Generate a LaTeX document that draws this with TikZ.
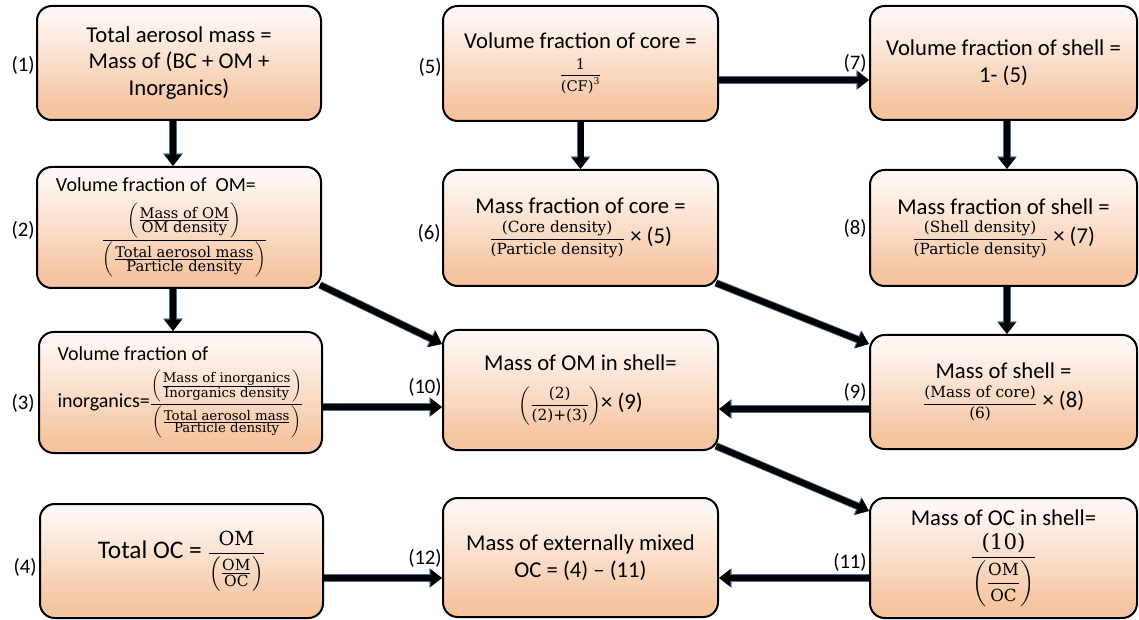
\documentclass[tikz,border=0pt]{standalone}
\usepackage{amsmath}
\usepackage{fontspec}
\setmainfont{Carlito}
\newfontfamily\cmf{DejaVu Serif}
\usetikzlibrary{arrows.meta,calc}
\definecolor{peachL}{RGB}{254,246,242}
\definecolor{peachD}{RGB}{245,196,160}
\definecolor{arrblue}{RGB}{65,113,156}
\pgfdeclareverticalshading{boxshade}{100bp}{color(0bp)=(peachD); color(25bp)=(peachD); color(30bp)=(peachD); color(70bp)=(peachL); color(100bp)=(peachL)}
\newcommand\ft[2][11]{\text{\fontsize{#1}{#1}\selectfont\cmf #2}}
\newcommand\msz[1]{\fontsize{#1}{#1}\selectfont}
\begin{document}
\begin{tikzpicture}[x=0.75pt,y=-0.75pt,
 box/.style={draw=black, line width=1.5pt, rounded corners=11pt, shade, shading=boxshade, align=center, font=\fontsize{17}{20}\selectfont, inner sep=1pt},
 lbl/.style={font=\fontsize{15.5}{18}\selectfont, inner sep=0pt, anchor=east},
 arr/.style={line width=4.5pt, black, -{Triangle[length=8.5pt,width=12.5pt]}, preaction={draw=arrblue, line width=5.7pt, -{Triangle[length=9.4pt,width=14.1pt]}}}]
\useasboundingbox (0,0) rectangle (1139,620);

\node[box, minimum width=213pt, minimum height=85.5pt] (b1) at (179,63) {Total aerosol mass =\\ Mass of (BC + OM +\\ Inorganics)};
\node[box, minimum width=213pt, minimum height=90.75pt, align=left, font=\fontsize{15}{20}\selectfont] (b2) at (179,227.5) {Volume fraction of\ \ OM=\hspace*{34.5pt}\\[7pt] \hspace*{34pt}{\msz{11}$\dfrac{\left(\frac{\ft{Mass of OM}}{\ft{OM density}}\right)}{\left(\frac{\ft{Total aerosol mass}}{\ft{Particle density}}\right)}$}};
\node[box, minimum width=212.25pt, minimum height=90.75pt, align=left, font=\fontsize{15}{20}\selectfont] (b3) at (180.5,392.5) {Volume fraction of\\[6pt] inorganics={\msz{10}$\dfrac{\left(\frac{\ft[10]{Mass of inorganics}}{\ft[10]{Inorganics density}}\right)}{\left(\frac{\ft[10]{Total aerosol mass}}{\ft[10]{Particle density}}\right)}$}};
\node[box, minimum width=212.25pt, minimum height=85.5pt, font=\fontsize{19}{24}\selectfont] (b4) at (181.5,561) {Total OC = {\msz{14}$\dfrac{\ft[14.5]{OM}}{\left(\frac{\ft[11.5]{OM}}{\ft[11.5]{OC}}\right)}$}};

\node[box, minimum width=206.25pt, minimum height=86.25pt] (b5) at (580.5,63.5) {Volume fraction of core =\\[3pt] {\msz{11}$\dfrac{\ft[11]{1}}{\ft[11]{(CF)}^{\ft[7]{3}}}$}};
\node[box, minimum width=206.25pt, minimum height=87pt] (b6) at (580.5,228) {Mass fraction of core =\\[2pt] {\msz{11.5}$\dfrac{\ft[11.5]{(Core density)}}{\ft[11.5]{(Particle density)}}$} × (5)};
\node[box, minimum width=206.25pt, minimum height=90pt] (b10) at (580.5,390) {Mass of OM in shell=\\[9pt] {\msz{11.5}$\left(\dfrac{\ft[11.5]{(2)}}{\ft[11.5]{(2)+(3)}}\right)$}× (9)};
\node[box, minimum width=206.25pt, minimum height=89.25pt] (b12) at (580.5,557.5) {Mass of externally mixed\\ OC = (4) – (11)};

\node[box, minimum width=200.25pt, minimum height=85.5pt] (b7) at (1003.5,63) {Volume fraction of shell =\\ 1- (5)};
\node[box, minimum width=200.25pt, minimum height=87pt] (b8) at (1003.5,228) {Mass fraction of shell =\\[2pt] {\msz{11.5}$\dfrac{\ft[11.5]{(Shell density)}}{\ft[11.5]{(Particle density)}}$} × (7)};
\node[box, minimum width=200.25pt, minimum height=85.5pt] (b9) at (1003.5,392) {Mass of shell =\\[2pt] {\msz{11.5}$\dfrac{\ft[11.5]{(Mass of core)}}{\ft[11.5]{(6)}}$} × (8)};
\node[box, minimum width=200.25pt, minimum height=90pt] (b11) at (1003.5,558) {Mass of OC in shell=\\[5pt] {\msz{14}$\dfrac{\ft[16]{(10)}}{\left(\dfrac{\ft[12.5]{OM}}{\ft[12.5]{OC}}\right)}$}};

\node[lbl] (l1) at (35,65) {(1)};
\node[lbl] (l2) at (35,230) {(2)};
\node[lbl] (l3) at (35,403) {(3)};
\node[lbl] (l4) at (37,567) {(4)};
\node[lbl] (l5) at (442,67) {(5)};
\node[lbl] (l6) at (441,233) {(6)};
\node[lbl] (l10) at (442,387) {(10)};
\node[lbl] (l12) at (442,558) {(12)};
\node[lbl] (l7) at (867,63) {(7)};
\node[lbl] (l8) at (867,228) {(8)};
\node[lbl] (l9) at (867,392) {(9)};
\node[lbl] (l11) at (867,562) {(11)};

\draw[arr] ([xshift=-4.5pt]b1.south) -- ([xshift=-4.5pt]b2.north);
\draw[arr] ([xshift=-4.5pt]b2.south) -- ([xshift=-4.5pt]b2.south |- b3.north);
\draw[arr] (b5.south) -- (b6.north);
\draw[arr] ([xshift=2.6pt]b7.south) -- ([xshift=2.6pt]b8.north);
\draw[arr] ([xshift=2.6pt]b8.south) -- ([xshift=2.6pt]b9.north);
\draw[arr] ([yshift=-12.4pt]b5.east) -- ([yshift=-12.4pt]b5.east -| b7.west);
\draw[arr] ([yshift=-10.9pt]b3.east) -- ([yshift=-10.9pt]b3.east -| b10.west);
\draw[arr] ([yshift=-12.75pt]b9.west) -- ([yshift=-12.75pt]b9.west -| b10.east);
\draw[arr] ([yshift=-12.75pt]b4.east) -- ([yshift=-12.75pt]b4.east -| b12.west);
\draw[arr] ([yshift=-15pt]b11.west) -- ([yshift=-15pt]b11.west -| b12.east);
\draw[arr] ([shift={(-2,-4)}]b2.south east) -- ([shift={(0,15)}]b10.north west);
\draw[arr] ([shift={(-3,-4)}]b6.south east) -- ([shift={(0,10)}]b9.north west);
\draw[arr] ([shift={(-3,-5)}]b10.south east) -- ([shift={(0,14)}]b11.north west);
\end{tikzpicture}
\end{document}
